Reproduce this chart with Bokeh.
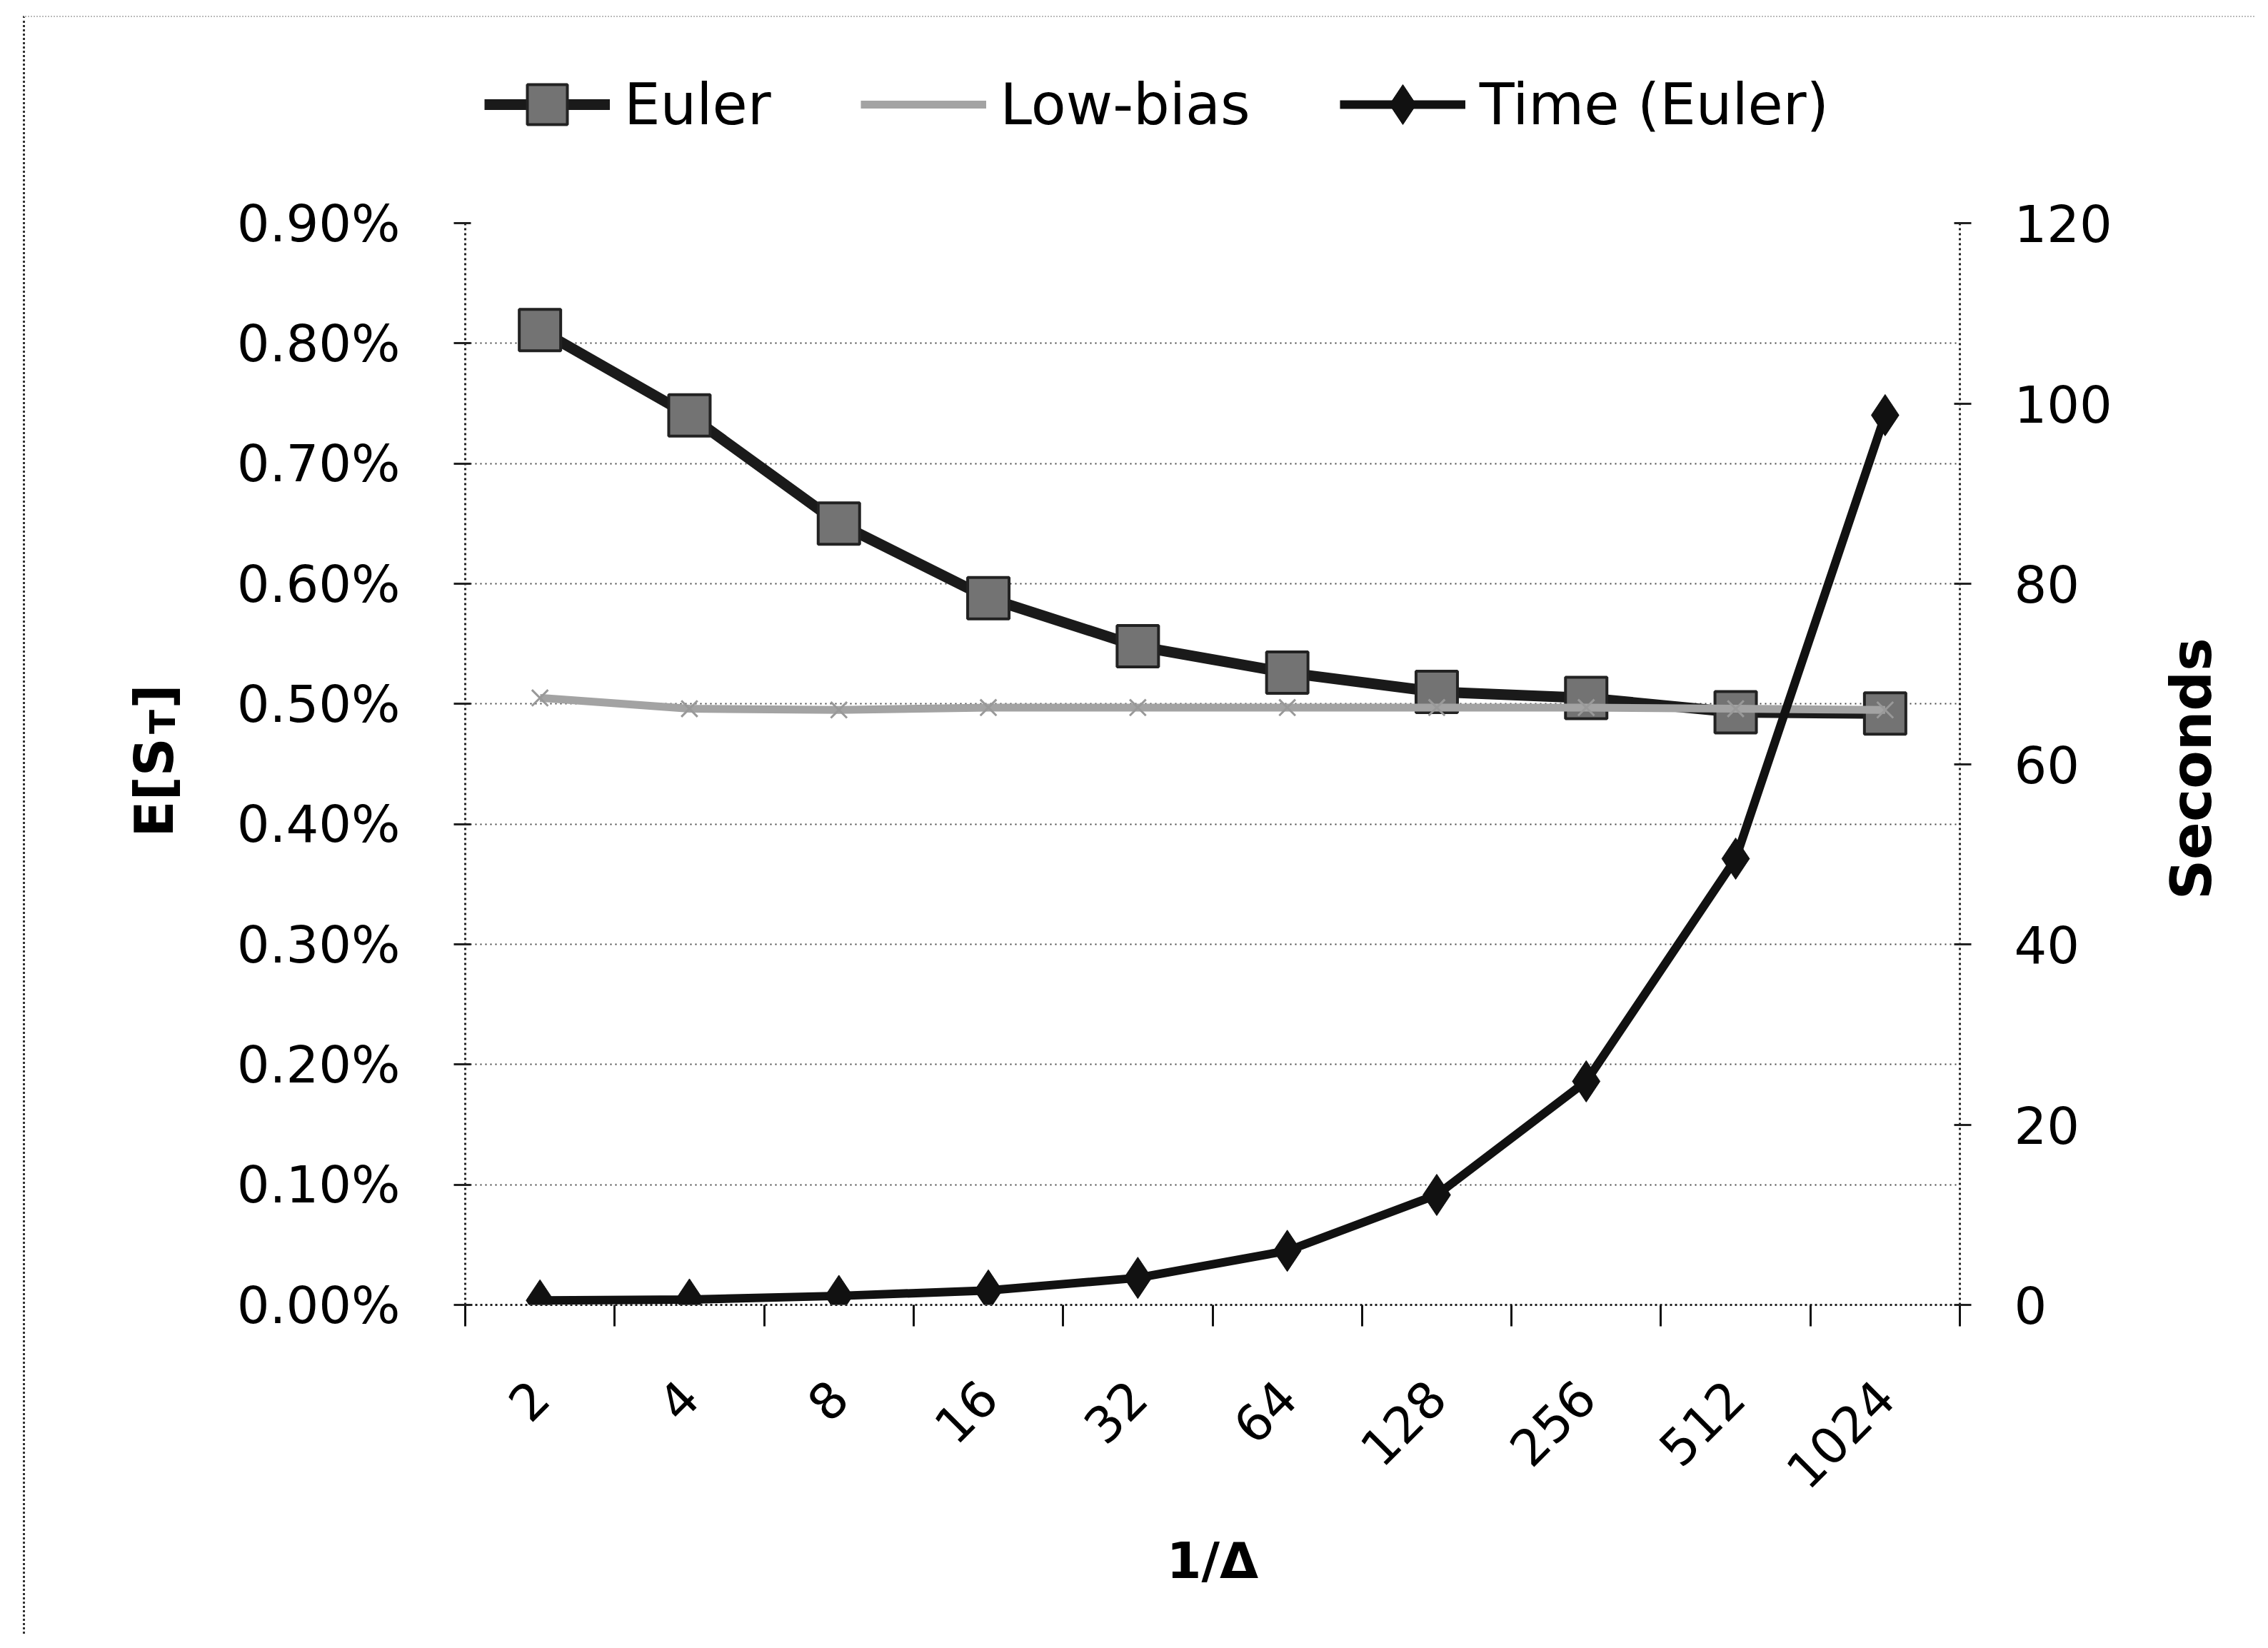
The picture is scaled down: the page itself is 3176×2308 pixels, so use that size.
import numpy as np
from math import pi
from bokeh.plotting import figure
from bokeh.layouts import column
from bokeh.models import (Range1d, LinearAxis, FixedTicker, PrintfTickFormatter,
                          Legend, LegendItem, Label, ColumnDataSource)
from bokeh.embed import file_html
from bokeh.resources import INLINE

# ---------------- data ----------------
categories = ["2", "4", "8", "16", "32", "64", "128", "256", "512", "1024"]
euler = [0.811, 0.740, 0.650, 0.588, 0.548, 0.526, 0.510, 0.505, 0.493, 0.492]      # %
low_bias = [0.505, 0.496, 0.495, 0.497, 0.497, 0.497, 0.497, 0.497, 0.496, 0.495]   # %
time_euler = [0.5, 0.6, 1.0, 1.6, 3.0, 6.0, 12.2, 24.8, 49.5, 98.7]                  # seconds
left_ticks = [0.0, 0.1, 0.2, 0.3, 0.4, 0.5, 0.6, 0.7, 0.8, 0.9]
right_ticks = [0, 20, 40, 60, 80, 100, 120]

FONT = "DejaVu Sans"
x = np.arange(len(categories)) + 0.5
src = ColumnDataSource(dict(x=x, cat=categories, euler=euler, low=low_bias, t=time_euler))

# series styles (shared by the plot and the legend strip)
EU_LINE = dict(line_color="#1a1a1a", line_width=15)
EU_MARK = dict(marker="square", size=58, fill_color="#737373", line_color="#222", line_width=4)
LB_LINE = dict(line_color="#a3a3a3", line_width=11)
LB_MARK = dict(marker="x", size=32, line_color="#999", line_width=3)
T_LINE = dict(line_color="#111", line_width=12)
T_MARK = dict(marker="diamond", size=58, fill_color="#111", line_color="#111")

W = 3122
HT = 228          # legend strip height
HM = 2036         # main chart height

# ---------------- main chart ----------------
p = figure(width=W, height=HM, output_backend="svg", toolbar_location=None,
           x_range=Range1d(0, len(categories)), y_range=Range1d(0, 0.9),
           min_border_left=616, min_border_right=W - 2709, min_border_top=60,
           min_border_bottom=461)
p.outline_line_color = None
p.background_fill_color = "white"
p.border_fill_color = "white"

p.xgrid.visible = False
p.ygrid.ticker = FixedTicker(ticks=left_ticks)
p.ygrid.grid_line_color = "#444"
p.ygrid.grid_line_width = 2
p.ygrid.grid_line_dash = "2 5"

# x axis (labels at category centres, tick marks at category boundaries)
xa = p.xaxis[0]
xa.ticker = FixedTicker(ticks=list(x), minor_ticks=list(range(0, len(categories) + 1)))
xa.major_label_overrides = {float(v): c for v, c in zip(x, categories)}
xa.major_label_orientation = pi / 4
xa.major_tick_line_color = None
xa.minor_tick_in = 0
xa.minor_tick_out = 30
xa.minor_tick_line_color = "#111"
xa.minor_tick_line_width = 3
xa.axis_line_color = "#222"
xa.axis_line_width = 3
xa.axis_line_dash = "3 4"
xa.major_label_text_font = FONT
xa.major_label_text_font_size = "70px"
xa.major_label_text_color = "black"
xa.major_label_standoff = 88
xa.axis_label = "1/Δ"
xa.axis_label_text_font = FONT
xa.axis_label_text_font_style = "bold"
xa.axis_label_text_font_size = "70px"
xa.axis_label_text_color = "black"
xa.axis_label_standoff = 34

# left axis
ya = p.yaxis[0]
ya.ticker = FixedTicker(ticks=left_ticks)
ya.formatter = PrintfTickFormatter(format="%.2f%%")
ya.major_label_text_font = FONT
ya.major_label_text_font_size = "72px"
ya.major_label_text_color = "black"
ya.major_tick_in = 8
ya.major_tick_out = 16
ya.major_tick_line_width = 3
ya.major_tick_line_color = "#222"
ya.minor_tick_line_color = None
ya.axis_line_color = "#222"
ya.axis_line_width = 3
ya.axis_line_dash = "3 4"
ya.major_label_standoff = 75

# right axis (ticks and numbers)
p.extra_y_ranges = {"sec": Range1d(0, 120)}
ra = LinearAxis(y_range_name="sec", ticker=FixedTicker(ticks=right_ticks))
ra.major_label_text_font = FONT
ra.major_label_text_font_size = "72px"
ra.major_label_text_color = "black"
ra.major_tick_in = 8
ra.major_tick_out = 16
ra.major_tick_line_width = 3
ra.major_tick_line_color = "#222"
ra.minor_tick_line_color = None
ra.axis_line_color = "#222"
ra.axis_line_width = 3
ra.axis_line_dash = "3 4"
ra.major_label_standoff = 60
p.add_layout(ra, "right")

# series
p.line("x", "euler", source=src, **EU_LINE)
p.scatter("x", "euler", source=src, **EU_MARK)
p.line("x", "low", source=src, **LB_LINE)
p.scatter("x", "low", source=src, **LB_MARK)
p.line("x", "t", source=src, y_range_name="sec", **T_LINE)
p.scatter("x", "t", source=src, y_range_name="sec", **T_MARK)

# axis titles drawn as rotated labels in the side panels
lab_kw = dict(angle=pi / 2, text_baseline="middle",
              text_font=FONT, text_font_style="bold", text_color="black")
p.add_layout(Label(x=-2.08, y=0.389, text="E[S", text_font_size="75px",
                   text_align="left", **lab_kw), "left")
p.add_layout(Label(x=-2.025, y=0.475, text="T", text_font_size="50px",
                   text_align="left", **lab_kw), "left")
p.add_layout(Label(x=-2.08, y=0.496, text="]", text_font_size="75px",
                   text_align="left", **lab_kw), "left")
p.add_layout(Label(x=11.55, y=0.446, text="Seconds", text_font_size="78px",
                   text_align="center", **lab_kw), "right")

# ---------------- legend strip above the chart ----------------
top = figure(width=W, height=HT, output_backend="svg", toolbar_location=None,
             x_axis_location=None, y_axis_location=None,
             x_range=Range1d(0, 1), y_range=Range1d(0, 1),
             min_border_left=0, min_border_right=0, min_border_top=0, min_border_bottom=0)
top.outline_line_color = None
top.xgrid.visible = False
top.ygrid.visible = False
proxy = ColumnDataSource(dict(x=[float("nan")], y=[float("nan")]))
r1 = top.line("x", "y", source=proxy, **EU_LINE)
r2 = top.scatter("x", "y", source=proxy, **EU_MARK)
r3 = top.line("x", "y", source=proxy, **LB_LINE)
r4 = top.line("x", "y", source=proxy, **T_LINE)
r5 = top.scatter("x", "y", source=proxy, **T_MARK)
legend = Legend(items=[LegendItem(label="Euler", renderers=[r1, r2]),
                       LegendItem(label="Low-bias", renderers=[r3]),
                       LegendItem(label="Time (Euler)", renderers=[r4, r5])],
                location=(27, 36), orientation="horizontal",
                glyph_width=176, glyph_height=140, label_standoff=20, spacing=125,
                padding=0, margin=0, border_line_color=None, background_fill_alpha=0,
                label_text_font=FONT, label_text_font_size="80px", label_text_color="black")
top.add_layout(legend)

page = column(top, p, spacing=0)
page.margin = (22, 0, 0, 32)
page.styles = {"border-left": "3px dotted #333", "border-top": "2px dotted #bbb"}

open("out.html", "w").write(file_html(page, INLINE))
